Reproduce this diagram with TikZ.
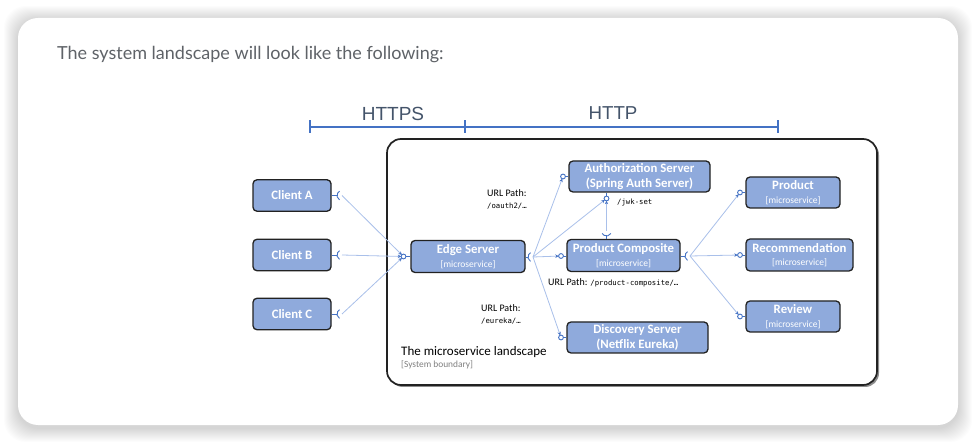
\documentclass[tikz,border=0pt]{standalone}
\usepackage{fontspec}
\setmainfont{Carlito}
\newfontfamily\uifont{Lato}
\newfontfamily\arialfont{Liberation Sans}
\newfontfamily\codefont{DejaVu Sans Mono}
\usetikzlibrary{arrows.meta,calc}
\definecolor{nodefill}{HTML}{8FAADC}
\definecolor{portblue}{HTML}{4472C4}
\definecolor{linkblue}{HTML}{A9C0EA}
\definecolor{barblue}{HTML}{4472C4}
\definecolor{slate}{HTML}{44546A}
\definecolor{uigrey}{HTML}{5F6368}
\definecolor{boxline}{HTML}{222222}
\tikzset{
  svc/.style={draw=boxline, line width=1.3pt, fill=nodefill, rounded corners=4pt,
    text=white, align=center, inner sep=0pt,
    font=\bfseries\fontsize{12.8}{13.5}\selectfont},
  link/.style={draw=linkblue, line width=0.8pt},
  linkarrow/.style={link, -{Stealth[length=3.4pt,width=3.4pt,fill=portblue,color=portblue]}, shorten >=2.3pt},
  port/.style={draw=portblue, line width=0.9pt},
  ball/.style={port, fill=white},
  codelbl/.style={inner sep=0pt, text=black, font=\codefont\fontsize{7.3}{9}\selectfont},
  bar/.style={draw=barblue, line width=1.6pt},
}
\newcommand\subtxt[1]{{\mdseries\fontsize{9.5}{10}\selectfont #1}}
\begin{document}
\begin{tikzpicture}[x=1pt,y=-1pt]
\useasboundingbox (0,0) rectangle (977,443);
\fill[white] (0,0) rectangle (977,443);
% card shadow
\foreach \i in {1,...,14}{
  \fill[black,opacity=0.011,rounded corners=22pt] (18-\i,18-\i+2) rectangle (958+\i,425+\i+3);
}
\fill[white,rounded corners=20pt] (18,18) rectangle (958,425);
% intro text
\node[anchor=base west, inner sep=0pt, text=uigrey, font=\uifont\fontsize{18}{20}\selectfont] (intro) at (57,60) {The system landscape will look like the following:};
% protocol bar
\node[anchor=base, inner sep=0pt, text=slate, font=\arialfont\fontsize{19}{22}\selectfont] (https) at (393,120.5) {HTTPS};
\node[anchor=base, inner sep=0pt, text=slate, font=\arialfont\fontsize{18.7}{22}\selectfont] (http) at (613,120) {HTTP};
\coordinate (barL) at (310,127);
\coordinate (barM) at (465,127);
\coordinate (barR) at (778,127);
\draw[bar] (barL) -- (barR);
\foreach \c in {barL,barM,barR}{ \draw[bar] (\c) ++(0,-6.5) -- ++(0,13); }
% boundary
\fill[black!45,rounded corners=14pt] (389,141) rectangle (879,387);
\draw[draw=boxline, line width=1.7pt, fill=white, rounded corners=14pt] (387,139) rectangle (877,385);
\node[anchor=base west, inner sep=0pt, font=\fontsize{13}{15}\selectfont] (landscape) at (401,356) {The microservice landscape};
\node[anchor=base west, inner sep=0pt, text=black!50, font=\fontsize{9.4}{10}\selectfont] (sysb) at (401,368) {[System boundary]};
% nodes
\node[svc, minimum width=78pt, minimum height=31.5pt] (cA) at (292,195.5) {Client A};
\node[svc, minimum width=78pt, minimum height=31.5pt] (cB) at (292,255) {Client B};
\node[svc, minimum width=78pt, minimum height=31.5pt] (cC) at (292,314) {Client C};
\node[svc, minimum width=114pt, minimum height=32pt] (edge) at (468,256.5) {Edge Server\\\subtxt{[microservice]}};
\node[svc, minimum width=141pt, minimum height=31pt, font=\bfseries\fontsize{12.8}{15}\selectfont] (auth) at (639.5,176.5) {Authorization Server\\(Spring Auth Server)};
\node[svc, minimum width=113pt, minimum height=32pt] (pc) at (623.5,255.5) {Product Composite\\\subtxt{[microservice]}};
\node[svc, minimum width=141pt, minimum height=31pt, font=\bfseries\fontsize{12.8}{15}\selectfont] (disc) at (637.5,337.5) {Discovery Server\\(Netflix Eureka)};
\node[svc, minimum width=94pt, minimum height=31pt] (prod) at (793,192.5) {Product\\\subtxt{[microservice]}};
\node[svc, minimum width=107pt, minimum height=32pt] (rec) at (799.5,255) {Recommendation\\\subtxt{[microservice]}};
\node[svc, minimum width=94pt, minimum height=31pt] (rev) at (793,316.5) {Review\\\subtxt{[microservice]}};
% port coordinates
\coordinate (sA) at (342,195.5);
\coordinate (sB) at (342,255);
\coordinate (sC) at (342,314);
\coordinate (sE) at (533,257);
\coordinate (sP) at (690,256);
\coordinate (sT) at (606.5,231);
\coordinate (bE) at (403.5,256.5);
\coordinate (bAL) at (563,176.5);
\coordinate (bAB) at (606.5,198.5);
\coordinate (bPL) at (561,256);
\coordinate (bD) at (561,337.5);
\coordinate (bPr) at (740,192.5);
\coordinate (bRe) at (740,255);
\coordinate (bRv) at (740,316.5);
% connectors
\foreach \s in {sA,sB,sC}{ \draw[linkarrow] (\s) -- (bE); }
\foreach \b in {bAL,bAB,bPL,bD}{ \draw[linkarrow] (sE) -- (\b); }
\draw[linkarrow] (sT) -- (bAB);
\foreach \b in {bPr,bRe,bRv}{ \draw[linkarrow] (sP) -- (\b); }
% sockets (open to the right)
\foreach \s/\n in {sA/cA,sB/cB,sC/cC,sE/edge,sP/pc}{
  \draw[port] (\n.east |- \s) -- ($(\s)+(-5,0)$);
  \draw[port] (\s) ++(120:5) arc[start angle=120,end angle=240,radius=5];
}
% socket on top of Product Composite (open upwards)
\draw[port] (pc.north -| sT) -- ($(sT)+(0,5)$);
\draw[port] (sT) ++(30:5) arc[start angle=30,end angle=150,radius=5];
% balls
\draw[port] (bE) -- (edge.west |- bE);
\draw[port] (bAL) -- (auth.west |- bAL);
\draw[port] (bAB) -- (auth.south -| bAB);
\draw[port] (bPL) -- (pc.west |- bPL);
\draw[port] (bD) -- (disc.west |- bD);
\draw[port] (bPr) -- (prod.west |- bPr);
\draw[port] (bRe) -- (rec.west |- bRe);
\draw[port] (bRv) -- (rev.west |- bRv);
\foreach \b in {bE,bAL,bAB,bPL,bD,bPr,bRe,bRv}{ \draw[ball] (\b) circle[radius=2.4]; }
% labels
\node[anchor=north west, align=left, inner sep=0pt] (oauth) at (487,189.5) {\fontsize{10}{11}\selectfont URL Path:\\[-0.5pt]{\codefont\fontsize{7.3}{9}\selectfont /oauth2/…}};
\node[codelbl, anchor=west] (jwk) at (617,202) {/jwk-set};
\node[anchor=west, inner sep=0pt] (pcpath) at (548,283) {\fontsize{10}{11}\selectfont URL Path: {\codefont\fontsize{7.3}{9}\selectfont /product-composite/…}};
\node[anchor=north west, align=left, inner sep=0pt] (eureka) at (481,304.5) {\fontsize{10}{11}\selectfont URL Path:\\[-0.5pt]{\codefont\fontsize{7.3}{9}\selectfont /eureka/…}};
\end{tikzpicture}
\end{document}
